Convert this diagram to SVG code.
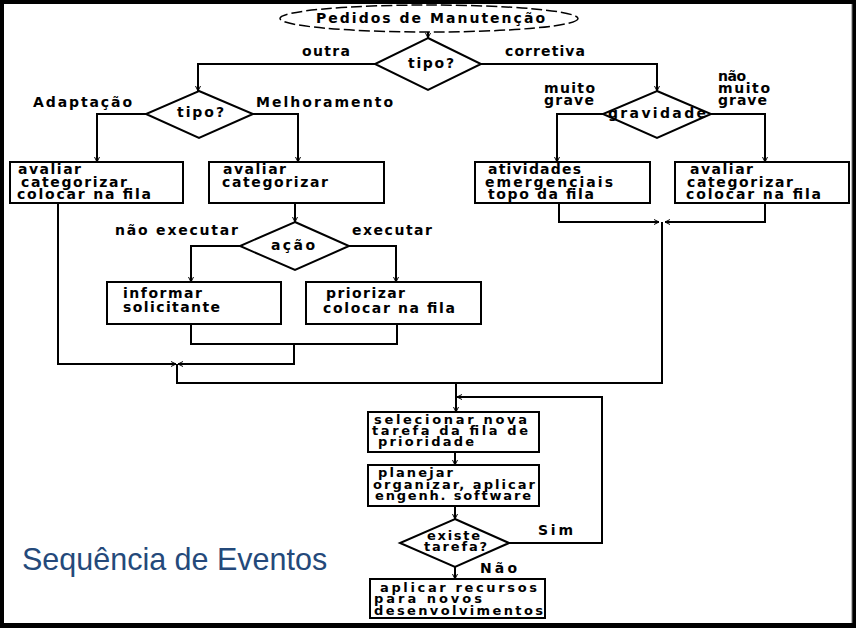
<svg xmlns="http://www.w3.org/2000/svg" width="856" height="628" viewBox="0 0 856 628">
<defs>
<style>
.t{font-family:"DejaVu Sans","Liberation Sans",sans-serif;font-weight:bold;font-size:14px;fill:#000}
.s{font-size:13px}
.box{fill:#fff;stroke:#000;stroke-width:2}
.dia{fill:#fff;stroke:#000;stroke-width:2}
.c{fill:none;stroke:#000;stroke-width:2}
.ca{fill:none;stroke:#000;stroke-width:2;marker-end:url(#ar)}
</style>
<marker id="ar" viewBox="0 0 6 6" refX="5.5" refY="3" markerWidth="6" markerHeight="6" markerUnits="userSpaceOnUse" orient="auto">
<path d="M0.5,0.5 L5.5,3 L0.5,5.5" fill="none" stroke="#000" stroke-width="1"/>
</marker>
</defs>
<rect x="0" y="0" width="856" height="628" fill="#000"/>
<rect x="4" y="4" width="848" height="619" fill="#fff"/>
<line x1="852" y1="4" x2="852" y2="623" stroke="#777" stroke-width="1"/>

<g id="connectors">
<path class="ca" d="M428,32 V38"/>
<path class="ca" d="M375,64 H198 V91"/>
<path class="ca" d="M481,64 H657 V91"/>
<path class="ca" d="M146,114 H97 V162"/>
<path class="ca" d="M253,114 H298 V162"/>
<path class="ca" d="M603,114 H557 V162"/>
<path class="ca" d="M711,114 H765 V162"/>
<path class="ca" d="M295,203 V222"/>
<path class="ca" d="M240,246 H191 V282"/>
<path class="ca" d="M349,246 H396 V282"/>
<path class="c" d="M191,324 V344 H397 V324"/>
<path class="ca" d="M294,344 V364 H178"/>
<path class="ca" d="M58,203 V364 H176"/>
<path class="c" d="M177,364 V383 H662 V222"/>
<path class="ca" d="M559,203 V222 H659"/>
<path class="ca" d="M765,203 V222 H665"/>
<path class="ca" d="M456,383 V412"/>
<path class="ca" d="M455,452 V465"/>
<path class="ca" d="M455,506 V519"/>
<path class="ca" d="M509,543 H602 V397 H457"/>
<path class="ca" d="M455,567 V579"/>
</g>

<g id="start">
<ellipse cx="429" cy="18.5" rx="149" ry="13.5" fill="#fff" stroke="#000" stroke-width="1.5" stroke-dasharray="11,4"/>
<text class="t" x="316" y="23" textLength="229" lengthAdjust="spacing">Pedidos de Manutenção</text>
</g>

<g id="d-tipo1">
<polygon class="dia" points="428,38 481,64 428,90 375,64"/>
<text class="t" x="408" y="68" textLength="46" lengthAdjust="spacing">tipo?</text>
</g>
<text class="t" x="302" y="56" textLength="48" lengthAdjust="spacing">outra</text>
<text class="t" x="505" y="56" textLength="80" lengthAdjust="spacing">corretiva</text>

<g id="d-tipo2">
<polygon class="dia" points="199,91 253,114 199,138 146,114"/>
<text class="t" x="177" y="117" textLength="47" lengthAdjust="spacing">tipo?</text>
</g>
<text class="t" x="33" y="107" textLength="99" lengthAdjust="spacing">Adaptação</text>
<text class="t" x="256" y="107" textLength="137" lengthAdjust="spacing">Melhoramento</text>

<g id="d-gravidade">
<polygon class="dia" points="657,91 711,114 657,138 603,114"/>
<text class="t" x="608" y="118" textLength="98" lengthAdjust="spacing">gravidade</text>
</g>
<text class="t" x="544" y="93" textLength="51" lengthAdjust="spacing">muito</text>
<text class="t" x="544" y="104.5" textLength="50" lengthAdjust="spacing">grave</text>
<text class="t" x="718" y="80.5" textLength="28" lengthAdjust="spacing">não</text>
<text class="t" x="718" y="93" textLength="52" lengthAdjust="spacing">muito</text>
<text class="t" x="718" y="104.5" textLength="49" lengthAdjust="spacing">grave</text>

<g id="b-adaptacao">
<rect class="box" x="10" y="162" width="173" height="41"/>
<text class="t" x="18" y="174" textLength="63" lengthAdjust="spacing">avaliar</text>
<text class="t" x="21" y="186.5" textLength="106" lengthAdjust="spacing">categorizar</text>
<text class="t" x="17" y="199" textLength="134" lengthAdjust="spacing">colocar na fila</text>
</g>

<g id="b-melhoramento">
<rect class="box" x="209" y="162" width="175" height="41"/>
<text class="t" x="223" y="174" textLength="63" lengthAdjust="spacing">avaliar</text>
<text class="t" x="222" y="186.5" textLength="106" lengthAdjust="spacing">categorizar</text>
</g>

<g id="b-emergencia">
<rect class="box" x="475" y="162" width="175" height="41"/>
<text class="t" x="488" y="174" textLength="93" lengthAdjust="spacing">atividades</text>
<text class="t" x="485" y="186.5" textLength="128" lengthAdjust="spacing">emergenciais</text>
<text class="t" x="488" y="199" textLength="106" lengthAdjust="spacing">topo da fila</text>
</g>

<g id="b-naograve">
<rect class="box" x="675" y="162" width="174" height="41"/>
<text class="t" x="690" y="174" textLength="63" lengthAdjust="spacing">avaliar</text>
<text class="t" x="687" y="186.5" textLength="106" lengthAdjust="spacing">categorizar</text>
<text class="t" x="686" y="199" textLength="135" lengthAdjust="spacing">colocar na fila</text>
</g>

<g id="d-acao">
<polygon class="dia" points="295,222 349,246 295,270 240,246"/>
<text class="t" x="271" y="250" textLength="44" lengthAdjust="spacing">ação</text>
</g>
<text class="t" x="115" y="235" textLength="123" lengthAdjust="spacing">não executar</text>
<text class="t" x="352" y="235" textLength="80" lengthAdjust="spacing">executar</text>

<g id="b-informar">
<rect class="box" x="107" y="282" width="174" height="42"/>
<text class="t" x="123" y="298" textLength="79" lengthAdjust="spacing">informar</text>
<text class="t" x="123" y="312" textLength="97" lengthAdjust="spacing">solicitante</text>
</g>

<g id="b-priorizar">
<rect class="box" x="306" y="282" width="175" height="42"/>
<text class="t" x="326" y="298" textLength="79" lengthAdjust="spacing">priorizar</text>
<text class="t" x="323" y="313" textLength="132" lengthAdjust="spacing">colocar na fila</text>
</g>

<g id="b-selecionar">
<rect class="box" x="368" y="412" width="171" height="40"/>
<text class="t s" x="374" y="424" textLength="153" lengthAdjust="spacing">selecionar  nova</text>
<text class="t s" x="372" y="435" textLength="156" lengthAdjust="spacing">tarefa da fila de</text>
<text class="t s" x="378" y="446" textLength="96" lengthAdjust="spacing">prioridade</text>
</g>

<g id="b-planejar">
<rect class="box" x="368" y="465" width="171" height="41"/>
<text class="t s" x="378" y="477" textLength="75" lengthAdjust="spacing">planejar</text>
<text class="t s" x="373" y="488.5" textLength="162" lengthAdjust="spacing">organizar, aplicar</text>
<text class="t s" x="375" y="500" textLength="156" lengthAdjust="spacing">engenh. software</text>
</g>

<g id="d-existe">
<polygon class="dia" points="455,519 509,543 455,567 400,543"/>
<text class="t s" x="427" y="540" textLength="53" lengthAdjust="spacing">existe</text>
<text class="t s" x="424" y="551" textLength="63" lengthAdjust="spacing">tarefa?</text>
</g>
<text class="t" x="538" y="535" textLength="35" lengthAdjust="spacing">Sim</text>
<text class="t" x="480" y="573" textLength="37" lengthAdjust="spacing">Não</text>

<g id="b-recursos">
<rect class="box" x="370" y="579" width="175" height="39"/>
<text class="t s" x="380" y="592" textLength="157" lengthAdjust="spacing">aplicar  recursos</text>
<text class="t s" x="374" y="603" textLength="108" lengthAdjust="spacing">para novos</text>
<text class="t s" x="374" y="614.5" textLength="169" lengthAdjust="spacing">desenvolvimentos</text>
</g>

<text id="title" x="22" y="570" font-family="'Liberation Sans',Arial,sans-serif" font-size="30.5" fill="#24497A">Sequência de Eventos</text>
</svg>
